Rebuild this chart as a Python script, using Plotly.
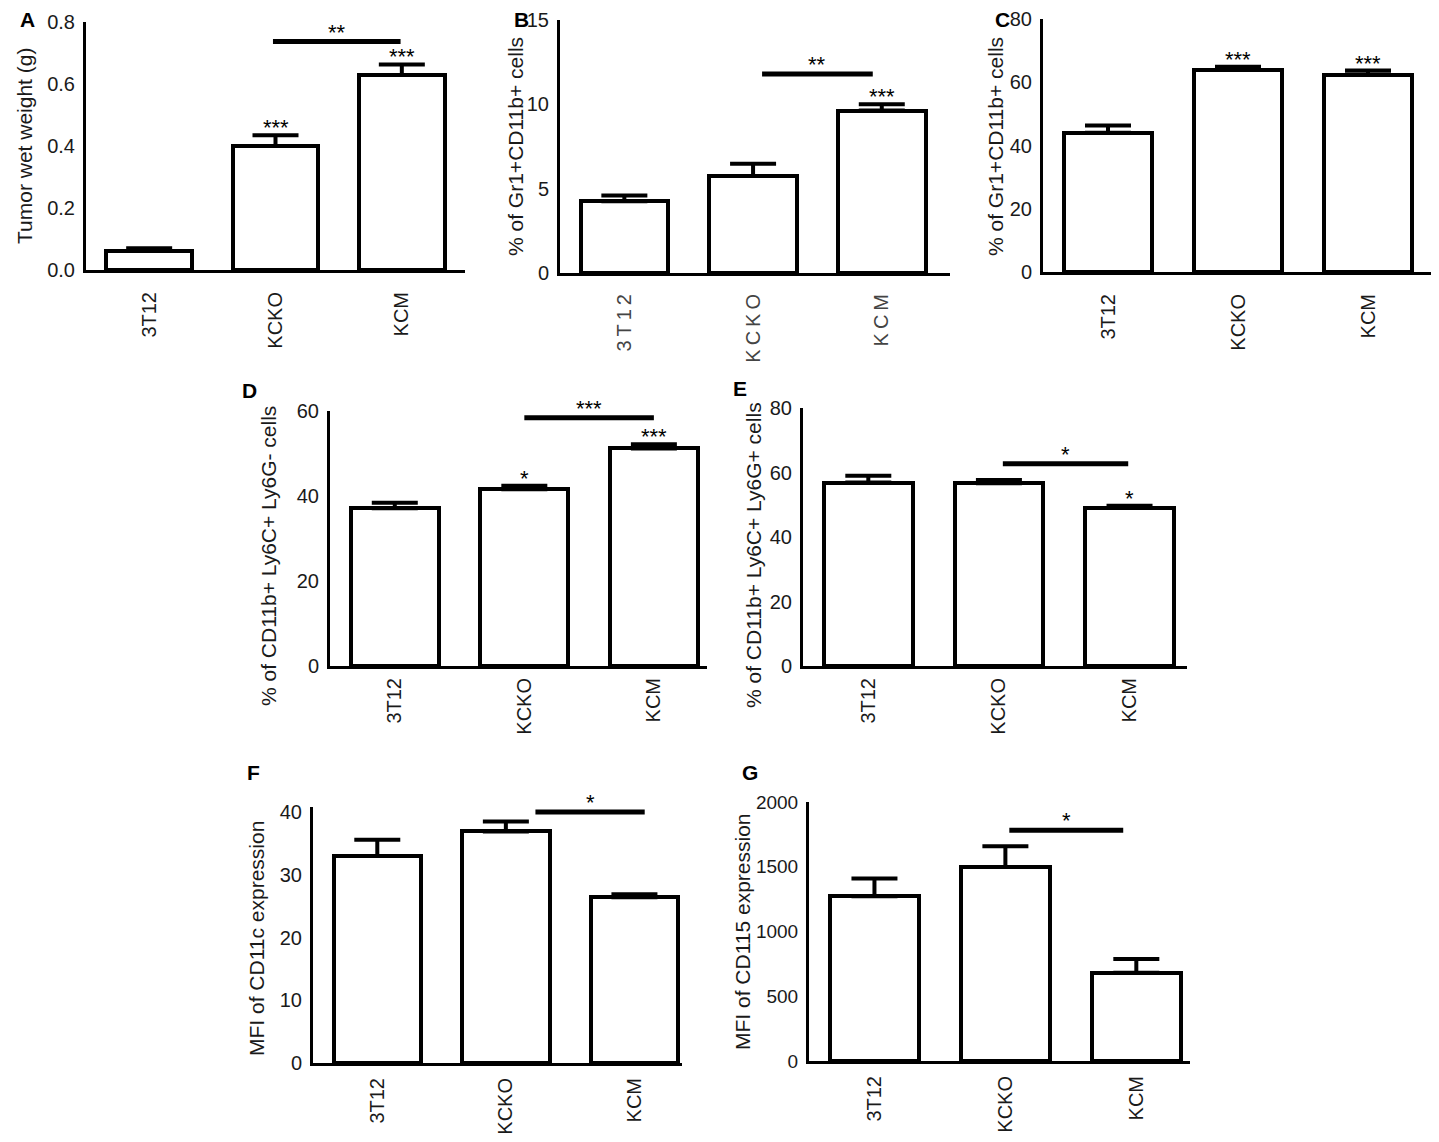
import plotly.graph_objects as go

# the page body adds an 8px margin, so the figure is drawn 8px smaller and
# every reference pixel position is shifted by that amount
PAD = 8
W, H = 1439 - PAD, 1142 - PAD

groups = ["3T12", "KCKO", "KCM"]

# values: bar mean and upper error (SEM)
tumor_weight = [0.062, 0.40, 0.629]
tumor_weight_err = [0.008, 0.035, 0.034]
gr1_cd11b_b = [4.25, 5.75, 9.63]
gr1_cd11b_b_err = [0.35, 0.73, 0.37]
gr1_cd11b_c = [44.0, 63.9, 62.4]
gr1_cd11b_c_err = [2.3, 1.0, 1.3]
ly6g_neg = [37.1, 41.6, 51.2]
ly6g_neg_err = [1.3, 0.8, 1.0]
ly6g_pos = [56.9, 56.7, 49.0]
ly6g_pos_err = [2.1, 1.0, 0.7]
cd11c_mfi = [33.0, 36.9, 26.4]
cd11c_mfi_err = [2.6, 1.6, 0.5]
cd115_mfi = [1273, 1499, 681]
cd115_mfi_err = [137, 160, 106]

# significance marks over single bars and over the KCKO-KCM comparison
stars_a = ["", "***", "***"]
stars_b = ["", "", "***"]
stars_c = ["", "***", "***"]
stars_d = ["", "*", "***"]
stars_e = ["", "", "*"]
stars_f = ["", "", ""]
stars_g = ["", "", ""]
compare_a = ("**", 0.737)
compare_b = ("**", 11.8)
compare_d = ("***", 58.4)
compare_e = ("*", 62.7)
compare_f = ("*", 40.0)
compare_g = ("*", 1782)

panels = [
    dict(letter="A", y=tumor_weight, err=tumor_weight_err, stars=stars_a, comp=compare_a,
         title="Tumor wet weight (g)", yr=[0, 0.8], dtick=0.2, fmt=".1f",
         box=(86, 465, 22, 270), xend=2.5, span=(0.98, 1.99), lab=(27, 19), tpos=(25, 146), std=11),
    dict(letter="B", y=gr1_cd11b_b, err=gr1_cd11b_b_err, stars=stars_b, comp=compare_b,
         title="% of Gr1+CD11b+ cells", yr=[0, 15], dtick=5, fmt="d",
         box=(560, 950, 20, 273), xend=2.53, span=(1.07, 1.93), lab=(521, 19), tpos=(515, 147), std=10,
         spaced=True),
    dict(letter="C", y=gr1_cd11b_c, err=gr1_cd11b_c_err, stars=stars_c, comp=None,
         title="% of Gr1+CD11b+ cells", yr=[0, 80], dtick=20, fmt="d",
         box=(1043, 1433, 19, 272), xend=2.5, span=None, lab=(1002, 19), tpos=(995, 147), std=11),
    dict(letter="D", y=ly6g_neg, err=ly6g_neg_err, stars=stars_d, comp=compare_d,
         title="% of CD11b+ Ly6C+ Ly6G- cells", yr=[0, 60], dtick=20, fmt="d",
         box=(330, 707, 411, 666), xend=2.41, span=(1.0, 2.0), lab=(249, 390), tpos=(268, 556), std=1),
    dict(letter="E", y=ly6g_pos, err=ly6g_pos_err, stars=stars_e, comp=compare_e,
         title="% of CD11b+ Ly6C+ Ly6G+ cells", yr=[0, 80], dtick=20, fmt="d",
         box=(803, 1187, 408, 666), xend=2.44, span=(1.03, 1.99), lab=(740, 388), tpos=(753, 555), std=1),
    dict(letter="F", y=cd11c_mfi, err=cd11c_mfi_err, stars=stars_f, comp=compare_f,
         title="MFI of CD11c expression", yr=[0, 40.8], dtick=10, fmt="d",
         box=(313, 682, 807, 1063), xend=2.37, span=(1.23, 2.08), lab=(253, 772), tpos=(256, 938), std=4),
    dict(letter="G", y=cd115_mfi, err=cd115_mfi_err, stars=stars_g, comp=compare_g,
         title="MFI of CD115 expression", yr=[0, 2000], dtick=500, fmt="d",
         box=(809, 1190, 802, 1061), xend=2.41, span=(1.03, 1.90), lab=(750, 772), tpos=(742, 932), std=4,
         tick_size=19),
]


def fx(px):
    return (px - PAD) / W


def fy(py):
    return 1 - (py - PAD) / H


FONT = "Liberation Sans, Arial, sans-serif"
fig = go.Figure()
annotations = []
shapes = []

for i, p in enumerate(panels):
    n = "" if i == 0 else str(i + 1)
    xa, ya = "x" + n, "y" + n
    x0, x1, ytop, ybot = p["box"]
    ticktext = groups
    if p.get("spaced"):
        ticktext = ["\u2009".join(g) for g in groups]

    fig.add_trace(go.Bar(
        x=[0, 1, 2], y=p["y"], xaxis=xa, yaxis=ya, width=0.68,
        marker=dict(color="white", line=dict(color="black", width=4)),
        error_y=dict(type="data", symmetric=False, array=p["err"], arrayminus=[0, 0, 0],
                     color="black", thickness=4, width=23),
        showlegend=False,
    ))

    fig.layout["xaxis" + n] = dict(
        domain=[fx(x0), fx(x1)], anchor=ya, range=[-0.5, p["xend"]], automargin=False,
        tickmode="array", tickvals=[0, 1, 2], ticktext=ticktext, tickangle=-90,
        showline=True, linewidth=3, linecolor="black", showgrid=False, zeroline=False,
        ticks="", ticklabelstandoff=p["std"], ticklabeloverflow="allow",
        tickfont=dict(size=20, family=FONT, color="#444" if p.get("spaced") else "#1a1a1a"),
    )
    fig.layout["yaxis" + n] = dict(
        domain=[fy(ybot), fy(ytop)], anchor=xa, range=p["yr"], automargin=False,
        tickmode="linear", tick0=0, dtick=p["dtick"],
        tickformat=p["fmt"], showline=True, linewidth=3, linecolor="black",
        showgrid=False, zeroline=False, ticks="", ticklabelstandoff=4,
        ticklabeloverflow="allow",
        tickfont=dict(size=p.get("tick_size", 20), family=FONT, color="#1a1a1a"),
    )

    # panel letter and y title
    annotations.append(dict(text="<b>" + p["letter"] + "</b>", xref="paper", yref="paper",
                            x=fx(p["lab"][0]), y=fy(p["lab"][1]), showarrow=False,
                            xanchor="center", yanchor="middle",
                            font=dict(size=21, family=FONT, color="black")))
    annotations.append(dict(text=p["title"], xref="paper", yref="paper", textangle=-90,
                            x=fx(p["tpos"][0]), y=fy(p["tpos"][1]), showarrow=False,
                            xanchor="center", yanchor="middle",
                            font=dict(size=21, family=FONT, color="#1a1a1a")))

    # stars over bars
    for k, s in enumerate(p["stars"]):
        if s:
            annotations.append(dict(text=s, xref=xa, yref=ya, x=k, y=p["y"][k] + p["err"][k],
                                    showarrow=False, yanchor="bottom", yshift=-7,
                                    font=dict(size=22, family=FONT, color="black")))

    # comparison bar
    if p["comp"]:
        label, level = p["comp"]
        a, b = p["span"]
        shapes.append(dict(type="line", xref=xa, yref=ya, x0=a, x1=b, y0=level, y1=level,
                           line=dict(color="black", width=5)))
        annotations.append(dict(text=label, xref=xa, yref=ya, x=(a + b) / 2, y=level,
                                showarrow=False, yanchor="bottom", yshift=-5,
                                font=dict(size=22, family=FONT, color="black")))

fig.update_layout(
    width=W, height=H, margin=dict(l=0, r=0, t=0, b=0),
    paper_bgcolor="white", plot_bgcolor="white",
    annotations=annotations, shapes=shapes, bargap=0,
)

fig.write_html("out.html")
